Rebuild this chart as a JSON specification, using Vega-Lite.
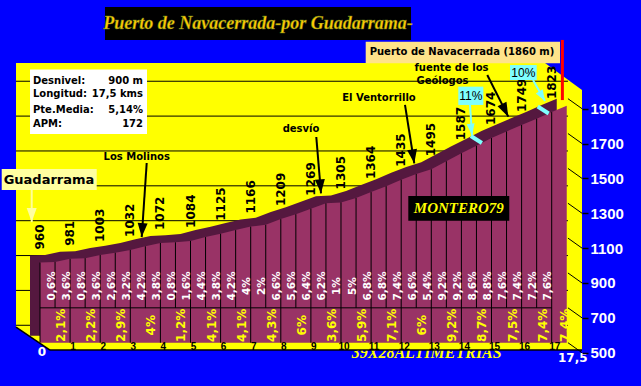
{
 "$schema": "https://vega.github.io/schema/vega-lite/v6.json",
 "width": 641, "height": 386, "autosize": {"type": "none"}, "padding": 0,
 "background": "#0000FF",
 "config": {"view": {"stroke": null}, "locale": {"number": {"decimal": ",", "thousands": ".", "grouping": [3], "currency": ["", " €"]}}},
 "resolve": {"axis": {"x": "independent", "y": "independent"}},
 "datasets": {
  "profile": [
   {"km":0,"alt":960},{"km":0.5,"alt":963},{"km":1,"alt":981},{"km":1.5,"alt":985},{"km":2,"alt":1003},{"km":2.5,"alt":1016},
   {"km":3,"alt":1032},{"km":3.5,"alt":1053},{"km":4,"alt":1072},{"km":4.5,"alt":1076},{"km":5,"alt":1084},{"km":5.5,"alt":1106},
   {"km":6,"alt":1125},{"km":6.5,"alt":1146},{"km":7,"alt":1166},{"km":7.5,"alt":1176},{"km":8,"alt":1209},{"km":8.5,"alt":1237},
   {"km":9,"alt":1269},{"km":9.5,"alt":1300},{"km":10,"alt":1305},{"km":10.5,"alt":1330},{"km":11,"alt":1364},{"km":11.5,"alt":1398},
   {"km":12,"alt":1435},{"km":12.5,"alt":1468},{"km":13,"alt":1495},{"km":13.5,"alt":1541},{"km":14,"alt":1587},{"km":14.5,"alt":1630},
   {"km":15,"alt":1674},{"km":15.5,"alt":1712},{"km":16,"alt":1749},{"km":16.5,"alt":1785},{"km":17,"alt":1823},{"km":17.5,"alt":1860}
  ],
  "half": [
   {"km":0.25,"grade":0.006},{"km":0.75,"grade":0.036},{"km":1.25,"grade":0.008},{"km":1.75,"grade":0.036},
   {"km":2.25,"grade":0.026},{"km":2.75,"grade":0.032},{"km":3.25,"grade":0.042},{"km":3.75,"grade":0.038},
   {"km":4.25,"grade":0.008},{"km":4.75,"grade":0.016},{"km":5.25,"grade":0.044},{"km":5.75,"grade":0.038},
   {"km":6.25,"grade":0.042},{"km":6.75,"grade":0.04},{"km":7.25,"grade":0.02},{"km":7.75,"grade":0.066},
   {"km":8.25,"grade":0.056},{"km":8.75,"grade":0.064},{"km":9.25,"grade":0.062},{"km":9.75,"grade":0.01},
   {"km":10.25,"grade":0.05},{"km":10.75,"grade":0.068},{"km":11.25,"grade":0.068},{"km":11.75,"grade":0.074},
   {"km":12.25,"grade":0.066},{"km":12.75,"grade":0.054},{"km":13.25,"grade":0.092},{"km":13.75,"grade":0.092},
   {"km":14.25,"grade":0.086},{"km":14.75,"grade":0.088},{"km":15.25,"grade":0.076},{"km":15.75,"grade":0.074},
   {"km":16.25,"grade":0.072},{"km":16.75,"grade":0.076}
  ],
  "perkm": [
   {"km":0.5,"grade":0.021},{"km":1.5,"grade":0.022},{"km":2.5,"grade":0.029},{"km":3.5,"grade":0.04},
   {"km":4.5,"grade":0.012},{"km":5.5,"grade":0.041},{"km":6.5,"grade":0.041},{"km":7.5,"grade":0.043},
   {"km":8.5,"grade":0.06},{"km":9.5,"grade":0.036},{"km":10.5,"grade":0.059},{"km":11.5,"grade":0.071},
   {"km":12.5,"grade":0.06},{"km":13.5,"grade":0.092},{"km":14.5,"grade":0.087},{"km":15.5,"grade":0.075},
   {"km":16.5,"grade":0.074},{"km":17.25,"grade":0.074}
  ]
 },
 "layer": [
  {
   "data": {"values": [{"km":12.847,"alt":440,"t":"39X28ALTIMETRIAS"}]},
   "mark": {"type": "text", "align": "center", "baseline": "middle", "font": "Liberation Serif", "fontStyle": "italic", "fontWeight": "bold", "fontSize": 16, "color": "#FFFF00"},
   "encoding": {
    "x": {"field": "km", "type": "quantitative", "scale": {"domain": [-1.329, 19.967], "nice": false, "zero": false}, "axis": null},
    "y": {"field": "alt", "type": "quantitative", "scale": {"domain": [251.6, 2466.1], "nice": false, "zero": false}, "axis": null},
    "text": {"field": "t"}
   }
  },
  {
   "data": {"values": [{"km":-0.797,"top":2105,"bot":590},{"km":0.332,"top":2105,"bot":458},{"km":16.777,"top":2105,"bot":458},{"km":18.007,"top":1950,"bot":458}]},
   "mark": {"type": "area", "color": "#FFFF00"},
   "encoding": {
    "x": {"field": "km", "type": "quantitative", "scale": {"domain": [-1.329, 19.967], "nice": false, "zero": false}, "axis": null},
    "y": {"field": "top", "type": "quantitative", "scale": {"domain": [251.6, 2466.1], "nice": false, "zero": false}, "axis": null},
    "y2": {"field": "bot"}
   }
  },
  {
   "data": {"values": [{"km":-0.797,"alt":590,"km2":0.332,"alt2":458},{"km":0.332,"alt":458,"km2":18.007,"alt2":458}]},
   "mark": {"type": "rule", "color": "black", "strokeWidth": 1.5},
   "encoding": {
    "x": {"field": "km", "type": "quantitative", "scale": {"domain": [-1.329, 19.967], "nice": false, "zero": false}, "axis": null},
    "y": {"field": "alt", "type": "quantitative", "scale": {"domain": [251.6, 2466.1], "nice": false, "zero": false}, "axis": null},
    "x2": {"field": "km2"}, "y2": {"field": "alt2"}
   }
  },
  {
   "data": {"values": [{"alt":600},{"alt":800},{"alt":1000},{"alt":1200},{"alt":1400},{"alt":1600},{"alt":1800},{"alt":2000}]},
   "mark": {"type": "rule", "color": "black", "strokeWidth": 1},
   "encoding": {
    "x": {"datum": -0.797, "type": "quantitative", "scale": {"domain": [-1.329, 19.967], "nice": false, "zero": false}, "axis": null},
    "x2": {"datum": 17.54},
    "y": {"field": "alt", "type": "quantitative", "scale": {"domain": [251.6, 2466.1], "nice": false, "zero": false}, "axis": null}
   }
  },
  {
   "data": {"values": [{"alt":500},{"alt":700},{"alt":900},{"alt":1100},{"alt":1300},{"alt":1500},{"alt":1700},{"alt":1900}]},
   "mark": {"type": "rule", "color": "black", "strokeWidth": 1, "y2Offset": 10},
   "encoding": {
    "x": {"datum": 17.54, "type": "quantitative", "scale": {"domain": [-1.329, 19.967], "nice": false, "zero": false}, "axis": null},
    "x2": {"datum": 18.007},
    "y": {"field": "alt", "type": "quantitative", "scale": {"domain": [251.6, 2466.1], "nice": false, "zero": false},
     "axis": {"orient": "right", "offset": -59, "values": [500,700,900,1100,1300,1500,1700,1900], "format": "d", "domain": false, "grid": false,
      "ticks": true, "tickSize": 6, "tickColor": "black", "tickWidth": 1.5, "tickOffset": 10, "labels": true, "labelColor": "white", "labelFont": "Liberation Sans",
      "labelFontSize": 15, "labelFontWeight": "bold", "labelPadding": 2, "title": null, "labelOverlap": false, "zindex": 1}},
    "y2": {"field": "alt"}
   }
  },
  {
   "data": {"name": "profile"},
   "mark": {"type": "area", "color": "#55183F", "xOffset": -10, "yOffset": -7, "y2Offset": -7},
   "encoding": {
    "x": {"field": "km", "type": "quantitative", "scale": {"domain": [-1.329, 19.967], "nice": false, "zero": false}, "axis": null},
    "y": {"field": "alt", "type": "quantitative", "scale": {"domain": [251.6, 2466.1], "nice": false, "zero": false}, "axis": null},
    "y2": {"datum": 500}
   }
  },
  {
   "data": {"name": "profile"},
   "mark": {"type": "area", "color": "#993366"},
   "encoding": {
    "x": {"field": "km", "type": "quantitative", "scale": {"domain": [-1.329, 19.967], "nice": false, "zero": false}, "axis": null},
    "y": {"field": "alt", "type": "quantitative", "scale": {"domain": [251.6, 2466.1], "nice": false, "zero": false}, "axis": null},
    "y2": {"datum": 500}
   }
  },
  {
   "data": {"name": "profile"},
   "transform": [{"filter": "datum.km % 1 == 0 && datum.km < 17.5"}],
   "mark": {"type": "rule", "color": "black", "strokeWidth": 1},
   "encoding": {
    "x": {"field": "km", "type": "quantitative", "scale": {"domain": [-1.329, 19.967], "nice": false, "zero": false}, "axis": null},
    "y": {"field": "alt", "type": "quantitative", "scale": {"domain": [251.6, 2466.1], "nice": false, "zero": false}, "axis": null},
    "y2": {"datum": 500}
   }
  },
  {
   "data": {"name": "profile"},
   "transform": [{"filter": "datum.km % 1 == 0.5 && datum.km < 17.5"}],
   "mark": {"type": "rule", "color": "black", "strokeWidth": 1},
   "encoding": {
    "x": {"field": "km", "type": "quantitative", "scale": {"domain": [-1.329, 19.967], "nice": false, "zero": false}, "axis": null},
    "y": {"field": "alt", "type": "quantitative", "scale": {"domain": [251.6, 2466.1], "nice": false, "zero": false}, "axis": null},
    "y2": {"datum": 700}
   }
  },
  {
   "data": {"values": [{}]},
   "mark": {"type": "rule", "color": "black", "strokeWidth": 1},
   "encoding": {
    "x": {"datum": 0, "type": "quantitative", "scale": {"domain": [-1.329, 19.967], "nice": false, "zero": false}, "axis": null},
    "x2": {"datum": 17},
    "y": {"datum": 700, "type": "quantitative", "scale": {"domain": [251.6, 2466.1], "nice": false, "zero": false}, "axis": null}
   }
  },
  {
   "data": {"values": [{"km":14.68,"alt":1646},{"km":16.9,"alt":1815}]},
   "mark": {"type": "rule", "color": "#7FFFFF", "strokeWidth": 4, "x2Offset": -11, "y2Offset": -7},
   "encoding": {
    "x": {"field": "km", "type": "quantitative", "scale": {"domain": [-1.329, 19.967], "nice": false, "zero": false}, "axis": null},
    "y": {"field": "alt", "type": "quantitative", "scale": {"domain": [251.6, 2466.1], "nice": false, "zero": false}, "axis": null},
    "x2": {"field": "km"}, "y2": {"field": "alt"}
   }
  },
  {
   "data": {"name": "profile"},
   "transform": [{"filter": "datum.km % 1 == 0 && datum.km < 17.5"}],
   "mark": {"type": "text", "angle": -90, "align": "left", "baseline": "middle", "dx": 13, "font": "DejaVu Sans", "fontWeight": "bold", "fontSize": 12, "color": "black"},
   "encoding": {
    "x": {"field": "km", "type": "quantitative", "scale": {"domain": [-1.329, 19.967], "nice": false, "zero": false}, "axis": null},
    "y": {"field": "alt", "type": "quantitative", "scale": {"domain": [251.6, 2466.1], "nice": false, "zero": false}, "axis": null},
    "text": {"field": "alt", "type": "quantitative", "format": "d"}
   }
  },
  {
   "data": {"name": "half"},
   "mark": {"type": "text", "angle": -90, "align": "center", "baseline": "middle", "dy": 4, "font": "DejaVu Sans", "fontWeight": "bold", "fontSize": 10.5, "color": "white"},
   "encoding": {
    "x": {"field": "km", "type": "quantitative", "scale": {"domain": [-1.329, 19.967], "nice": false, "zero": false}, "axis": null},
    "y": {"datum": 825, "type": "quantitative", "scale": {"domain": [251.6, 2466.1], "nice": false, "zero": false}, "axis": null},
    "text": {"field": "grade", "type": "quantitative", "format": ".1~%"}
   }
  },
  {
   "data": {"name": "perkm"},
   "mark": {"type": "text", "angle": -90, "align": "center", "baseline": "middle", "dy": 6, "font": "DejaVu Sans", "fontWeight": "bold", "fontSize": 12, "color": "#FFFF00"},
   "encoding": {
    "x": {"field": "km", "type": "quantitative", "scale": {"domain": [-1.329, 19.967], "nice": false, "zero": false}, "axis": null},
    "y": {"datum": 600, "type": "quantitative", "scale": {"domain": [251.6, 2466.1], "nice": false, "zero": false}, "axis": null},
    "text": {"field": "grade", "type": "quantitative", "format": ".1~%"}
   }
  },
  {
   "data": {"values": [{"km":1},{"km":2},{"km":3},{"km":4},{"km":5},{"km":6},{"km":7},{"km":8},{"km":9},{"km":10},{"km":11},{"km":12},{"km":13},{"km":14},{"km":15},{"km":16},{"km":17}]},
   "mark": {"type": "text", "align": "center", "baseline": "middle", "dx": 3, "font": "Liberation Sans", "fontWeight": "bold", "fontSize": 10, "color": "black"},
   "encoding": {
    "x": {"field": "km", "type": "quantitative", "scale": {"domain": [-1.329, 19.967], "nice": false, "zero": false}, "axis": null},
    "y": {"datum": 478, "type": "quantitative", "scale": {"domain": [251.6, 2466.1], "nice": false, "zero": false}, "axis": null},
    "text": {"field": "km", "type": "quantitative", "format": "d"}
   }
  },
  {
   "data": {"values": [{"km":0}]},
   "mark": {"type": "text", "align": "center", "baseline": "middle", "dx": 2, "font": "DejaVu Sans", "fontWeight": "bold", "fontSize": 12, "color": "white"},
   "encoding": {
    "x": {"field": "km", "type": "quantitative", "scale": {"domain": [-1.329, 19.967], "nice": false, "zero": false}, "axis": null},
    "y": {"datum": 444, "type": "quantitative", "scale": {"domain": [251.6, 2466.1], "nice": false, "zero": false}, "axis": null},
    "text": {"field": "km", "type": "quantitative", "format": "d"}
   }
  },
  {
   "data": {"values": [{"km":17.5}]},
   "mark": {"type": "text", "align": "center", "baseline": "middle", "dx": 6, "font": "DejaVu Sans", "fontWeight": "bold", "fontSize": 12, "color": "white"},
   "encoding": {
    "x": {"field": "km", "type": "quantitative", "scale": {"domain": [-1.329, 19.967], "nice": false, "zero": false}, "axis": null},
    "y": {"datum": 410, "type": "quantitative", "scale": {"domain": [251.6, 2466.1], "nice": false, "zero": false}, "axis": null},
    "text": {"field": "km", "type": "quantitative", "format": ".1f"}
   }
  },
  {
   "data": {"values": [
    {"x1":2.159,"x2":12.326,"y1":2236.6,"y2":2426,"box":"title"},
    {"x1":12.236,"x2":15.591,"y1":1200,"y2":1342,"box":"montero"}
   ]},
   "mark": {"type": "rect", "color": "black"},
   "encoding": {
    "x": {"field": "x1", "type": "quantitative", "scale": {"domain": [-1.329, 19.967], "nice": false, "zero": false}, "axis": null},
    "x2": {"field": "x2"},
    "y": {"field": "y1", "type": "quantitative", "scale": {"domain": [251.6, 2466.1], "nice": false, "zero": false}, "axis": null},
    "y2": {"field": "y2"}
   }
  },
  {
   "data": {"values": [{"x1":10.821,"x2":17.276,"y1":2103,"y2":2227}]},
   "mark": {"type": "rect", "color": "#FFE38A"},
   "encoding": {
    "x": {"field": "x1", "type": "quantitative", "scale": {"domain": [-1.329, 19.967], "nice": false, "zero": false}, "axis": null},
    "x2": {"field": "x2"},
    "y": {"field": "y1", "type": "quantitative", "scale": {"domain": [251.6, 2466.1], "nice": false, "zero": false}, "axis": null},
    "y2": {"field": "y2"}
   }
  },
  {
   "data": {"values": [{"x1":-0.332,"x2":3.555,"y1":1697,"y2":2067}]},
   "mark": {"type": "rect", "color": "white"},
   "encoding": {
    "x": {"field": "x1", "type": "quantitative", "scale": {"domain": [-1.329, 19.967], "nice": false, "zero": false}, "axis": null},
    "x2": {"field": "x2"},
    "y": {"field": "y1", "type": "quantitative", "scale": {"domain": [251.6, 2466.1], "nice": false, "zero": false}, "axis": null},
    "y2": {"field": "y2"}
   }
  },
  {
   "data": {"values": [{"x1":-1.272,"x2":1.884,"y1":1376,"y2":1497}]},
   "mark": {"type": "rect", "color": "#FFFFA0"},
   "encoding": {
    "x": {"field": "x1", "type": "quantitative", "scale": {"domain": [-1.329, 19.967], "nice": false, "zero": false}, "axis": null},
    "x2": {"field": "x2"},
    "y": {"field": "y1", "type": "quantitative", "scale": {"domain": [251.6, 2466.1], "nice": false, "zero": false}, "axis": null},
    "y2": {"field": "y2"}
   }
  },
  {
   "data": {"values": [{"x1":13.897,"x2":14.728,"y1":1864,"y2":1969},{"x1":15.615,"x2":16.502,"y1":2007,"y2":2093}]},
   "mark": {"type": "rect", "color": "#7FFFFF"},
   "encoding": {
    "x": {"field": "x1", "type": "quantitative", "scale": {"domain": [-1.329, 19.967], "nice": false, "zero": false}, "axis": null},
    "x2": {"field": "x2"},
    "y": {"field": "y1", "type": "quantitative", "scale": {"domain": [251.6, 2466.1], "nice": false, "zero": false}, "axis": null},
    "y2": {"field": "y2"}
   }
  },
  {
   "data": {"values": [{"km":17.355,"alt":1892,"alt2":2237}]},
   "mark": {"type": "rule", "color": "#FF0000", "strokeWidth": 3},
   "encoding": {
    "x": {"field": "km", "type": "quantitative", "scale": {"domain": [-1.329, 19.967], "nice": false, "zero": false}, "axis": null},
    "y": {"field": "alt", "type": "quantitative", "scale": {"domain": [251.6, 2466.1], "nice": false, "zero": false}, "axis": null},
    "y2": {"field": "alt2"}
   }
  },
  {
   "data": {"values": [{"km":7.243,"alt":2328,"t":"Puerto de Navacerrada-por Guadarrama-"}]},
   "mark": {"type": "text", "align": "center", "baseline": "middle", "font": "Liberation Serif", "fontStyle": "italic", "fontWeight": "bold", "fontSize": 18, "color": "#FFCC00", "stroke": "#5F7A20", "strokeWidth": 0.4},
   "encoding": {
    "x": {"field": "km", "type": "quantitative", "scale": {"domain": [-1.329, 19.967], "nice": false, "zero": false}, "axis": null},
    "y": {"field": "alt", "type": "quantitative", "scale": {"domain": [251.6, 2466.1], "nice": false, "zero": false}, "axis": null},
    "text": {"field": "t"}
   }
  },
  {
   "data": {"values": [{"km":13.914,"alt":1270,"t":"MONTERO79"}]},
   "mark": {"type": "text", "align": "center", "baseline": "middle", "font": "Liberation Serif", "fontStyle": "italic", "fontWeight": "bold", "fontSize": 15, "color": "#FFFF00"},
   "encoding": {
    "x": {"field": "km", "type": "quantitative", "scale": {"domain": [-1.329, 19.967], "nice": false, "zero": false}, "axis": null},
    "y": {"field": "alt", "type": "quantitative", "scale": {"domain": [251.6, 2466.1], "nice": false, "zero": false}, "axis": null},
    "text": {"field": "t"}
   }
  },
  {
   "data": {"values": [
    {"km":14.02,"alt":2165,"t":"Puerto de Navacerrada (1860 m)"},
    {"km":3.213,"alt":1564,"t":"Los Molinos"},
    {"km":8.671,"alt":1726,"t":"desvío"},
    {"km":11.262,"alt":1906,"t":"El Ventorrillo"},
    {"km":13.671,"alt":2074,"t":"fuente de los"},
    {"km":13.372,"alt":2001,"t":"Geólogos"}
   ]},
   "mark": {"type": "text", "align": "center", "baseline": "middle", "font": "DejaVu Sans", "fontWeight": "bold", "fontSize": 10, "color": "black"},
   "encoding": {
    "x": {"field": "km", "type": "quantitative", "scale": {"domain": [-1.329, 19.967], "nice": false, "zero": false}, "axis": null},
    "y": {"field": "alt", "type": "quantitative", "scale": {"domain": [251.6, 2466.1], "nice": false, "zero": false}, "axis": null},
    "text": {"field": "t"}
   }
  },
  {
   "data": {"values": [{"km":0.299,"alt":1436,"t":"Guadarrama"}]},
   "mark": {"type": "text", "align": "center", "baseline": "middle", "font": "DejaVu Sans", "fontWeight": "bold", "fontSize": 13, "color": "black"},
   "encoding": {
    "x": {"field": "km", "type": "quantitative", "scale": {"domain": [-1.329, 19.967], "nice": false, "zero": false}, "axis": null},
    "y": {"field": "alt", "type": "quantitative", "scale": {"domain": [251.6, 2466.1], "nice": false, "zero": false}, "axis": null},
    "text": {"field": "t"}
   }
  },
  {
   "data": {"values": [{"km":14.312,"alt":1915,"t":"11%"},{"km":16.057,"alt":2050,"t":"10%"}]},
   "mark": {"type": "text", "align": "center", "baseline": "middle", "font": "Liberation Sans", "fontSize": 12, "color": "black"},
   "encoding": {
    "x": {"field": "km", "type": "quantitative", "scale": {"domain": [-1.329, 19.967], "nice": false, "zero": false}, "axis": null},
    "y": {"field": "alt", "type": "quantitative", "scale": {"domain": [251.6, 2466.1], "nice": false, "zero": false}, "axis": null},
    "text": {"field": "t"}
   }
  },
  {
   "data": {"values": [{"alt":2003,"t":"Desnivel:"},{"alt":1925,"t":"Longitud:"},{"alt":1835,"t":"Pte.Media:"},{"alt":1753,"t":"APM:"}]},
   "mark": {"type": "text", "align": "left", "baseline": "middle", "font": "DejaVu Sans", "fontWeight": "bold", "fontSize": 10, "color": "black"},
   "encoding": {
    "x": {"datum": -0.233, "type": "quantitative", "scale": {"domain": [-1.329, 19.967], "nice": false, "zero": false}, "axis": null},
    "y": {"field": "alt", "type": "quantitative", "scale": {"domain": [251.6, 2466.1], "nice": false, "zero": false}, "axis": null},
    "text": {"field": "t"}
   }
  },
  {
   "data": {"values": [{"alt":2003,"t":"900 m"},{"alt":1925,"t":"17,5 kms"},{"alt":1835,"t":"5,14%"},{"alt":1753,"t":"172"}]},
   "mark": {"type": "text", "align": "right", "baseline": "middle", "font": "DejaVu Sans", "fontWeight": "bold", "fontSize": 10, "color": "black"},
   "encoding": {
    "x": {"datum": 3.422, "type": "quantitative", "scale": {"domain": [-1.329, 19.967], "nice": false, "zero": false}, "axis": null},
    "y": {"field": "alt", "type": "quantitative", "scale": {"domain": [251.6, 2466.1], "nice": false, "zero": false}, "axis": null},
    "text": {"field": "t"}
   }
  },
  {
   "data": {"values": [
    {"km":3.545,"alt":1531,"km2":3.379,"alt2":1106,"ang":3.8},
    {"km":9.179,"alt":1680,"km2":9.336,"alt2":1357,"ang":-4.7},
    {"km":12.126,"alt":1864,"km2":12.435,"alt2":1529,"ang":-9.1},
    {"km":14.86,"alt":2036,"km2":15.558,"alt2":1797,"ang":-26.7}
   ]},
   "layer": [
    {"mark": {"type": "rule", "color": "black", "strokeWidth": 2},
     "encoding": {
      "x": {"field": "km", "type": "quantitative", "scale": {"domain": [-1.329, 19.967], "nice": false, "zero": false}, "axis": null},
      "y": {"field": "alt", "type": "quantitative", "scale": {"domain": [251.6, 2466.1], "nice": false, "zero": false}, "axis": null},
      "x2": {"field": "km2"}, "y2": {"field": "alt2"}
     }},
    {"mark": {"type": "point", "filled": true, "opacity": 1, "color": "black", "shape": "M -0.5 -1.4 L 0.5 -1.4 L 0 0 Z", "size": 400},
     "encoding": {
      "x": {"field": "km2", "type": "quantitative", "scale": {"domain": [-1.329, 19.967], "nice": false, "zero": false}, "axis": null},
      "y": {"field": "alt2", "type": "quantitative", "scale": {"domain": [251.6, 2466.1], "nice": false, "zero": false}, "axis": null},
      "angle": {"field": "ang", "type": "quantitative", "scale": null}
     }}
   ]
  },
  {
   "data": {"values": [
    {"km":14.286,"alt":1864,"km2":14.352,"alt2":1692,"ang":-7},
    {"km":16.379,"alt":2007,"km2":16.777,"alt2":1887,"ang":-31}
   ]},
   "layer": [
    {"mark": {"type": "rule", "color": "#7FFFFF", "strokeWidth": 2},
     "encoding": {
      "x": {"field": "km", "type": "quantitative", "scale": {"domain": [-1.329, 19.967], "nice": false, "zero": false}, "axis": null},
      "y": {"field": "alt", "type": "quantitative", "scale": {"domain": [251.6, 2466.1], "nice": false, "zero": false}, "axis": null},
      "x2": {"field": "km2"}, "y2": {"field": "alt2"}
     }},
    {"mark": {"type": "point", "filled": true, "opacity": 1, "color": "#7FFFFF", "shape": "M -0.5 -1.4 L 0.5 -1.4 L 0 0 Z", "size": 256},
     "encoding": {
      "x": {"field": "km2", "type": "quantitative", "scale": {"domain": [-1.329, 19.967], "nice": false, "zero": false}, "axis": null},
      "y": {"field": "alt2", "type": "quantitative", "scale": {"domain": [251.6, 2466.1], "nice": false, "zero": false}, "axis": null},
      "angle": {"field": "ang", "type": "quantitative", "scale": null}
     }}
   ]
  },
  {
   "data": {"values": [{"km":-0.276,"alt":1376,"km2":-0.276,"alt2":1192,"ang":0}]},
   "layer": [
    {"mark": {"type": "rule", "color": "#FFFF99", "strokeWidth": 2},
     "encoding": {
      "x": {"field": "km", "type": "quantitative", "scale": {"domain": [-1.329, 19.967], "nice": false, "zero": false}, "axis": null},
      "y": {"field": "alt", "type": "quantitative", "scale": {"domain": [251.6, 2466.1], "nice": false, "zero": false}, "axis": null},
      "x2": {"field": "km2"}, "y2": {"field": "alt2"}
     }},
    {"mark": {"type": "point", "filled": true, "opacity": 1, "color": "#FFFFA0", "shape": "M -0.5 -1.4 L 0.5 -1.4 L 0 0 Z", "size": 400},
     "encoding": {
      "x": {"field": "km2", "type": "quantitative", "scale": {"domain": [-1.329, 19.967], "nice": false, "zero": false}, "axis": null},
      "y": {"field": "alt2", "type": "quantitative", "scale": {"domain": [251.6, 2466.1], "nice": false, "zero": false}, "axis": null},
      "angle": {"field": "ang", "type": "quantitative", "scale": null}
     }}
   ]
  }
 ]
}
